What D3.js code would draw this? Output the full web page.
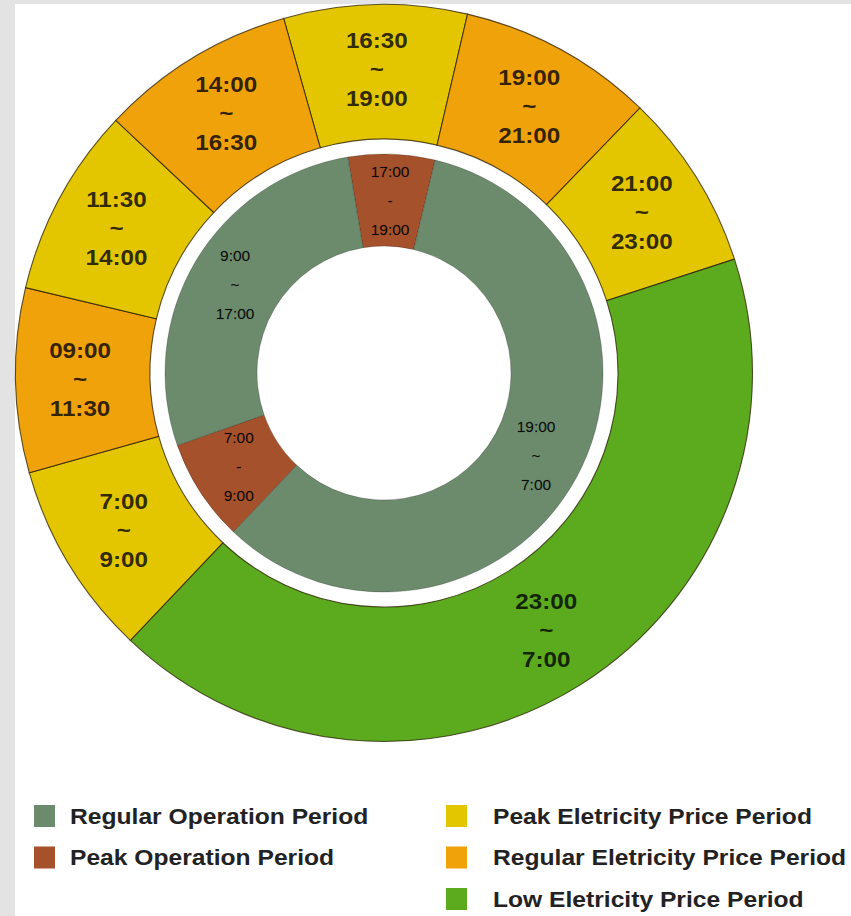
<!DOCTYPE html>
<html><head><meta charset="utf-8">
<script src="https://cdn.jsdelivr.net/npm/d3@7"></script>
<style>html,body{margin:0;padding:0;background:#e3e3e3;} svg{display:block}</style>
</head><body>
<svg id="chart" width="851" height="916"></svg>
<script>
// Outer ring: electricity price periods (slice sizes read as degrees of arc)
const priceStart = ["16:30", "19:00", "21:00", "23:00", "7:00", "09:00", "11:30", "14:00"];
const priceEnd   = ["19:00", "21:00", "23:00", "7:00", "9:00", "11:30", "14:00", "16:30"];
const priceLevel = ["peak", "regular", "peak", "low", "peak", "regular", "peak", "regular"];
const priceSpan  = [28.9, 30.9, 28, 151.5, 30.8, 29.1, 29.9, 30.9];
const priceFirstEdge = -15.8;

// Inner ring: operation periods
const opStart = ["17:00", "19:00", "7:00", "9:00"];
const opEnd   = ["19:00", "7:00", "9:00", "17:00"];
const opSep   = ["-", "~", "-", "~"];
const opLevel = ["peak", "regular", "peak", "regular"];
const opSpan  = [23, 210, 27.2, 99.8];
const opFirstEdge = -9.5;

// Legend
const opLegendKeys = ["regular", "peak"];
const opLegendNames = ["Regular Operation Period", "Peak Operation Period"];
const priceLegendKeys = ["peak", "regular", "low"];
const priceLegendNames = ["Peak Eletricity Price Period", "Regular Eletricity Price Period", "Low Eletricity Price Period"];

const priceColor = d3.scaleOrdinal().domain(["peak", "regular", "low"]).range(["#e4c600", "#f0a20a", "#5caa1e"]);
const opColor = d3.scaleOrdinal().domain(["regular", "peak"]).range(["#6c8a6c", "#a5522c"]);

const svg = d3.select("#chart");
svg.append("rect").attr("x", 15).attr("y", 4).attr("width", 836).attr("height", 912).attr("fill", "#ffffff");

const cx = 384, cy = 373;
const g = svg.append("g").attr("transform", `translate(${cx},${cy})`);
const rad = d => d * Math.PI / 180;

// Outer ring
const pricePie = d3.pie().sort(null).value(d => d.span)
  .startAngle(rad(priceFirstEdge)).endAngle(rad(priceFirstEdge + 360));
const priceData = pricePie(priceSpan.map((s, i) => ({span: s, level: priceLevel[i], a: priceStart[i], b: priceEnd[i]})));
const outerArc = d3.arc().innerRadius(234).outerRadius(368.5);
const outerLabelArc = d3.arc().innerRadius(304).outerRadius(304);

g.selectAll("path.price").data(priceData).join("path")
  .attr("class", "price")
  .attr("d", outerArc)
  .attr("fill", d => priceColor(d.data.level))
  .attr("stroke", "rgba(40,30,0,0.75)")
  .attr("stroke-width", 1.1);

const pl = g.selectAll("g.plabel").data(priceData).join("g")
  .attr("class", "plabel")
  .attr("transform", d => { const c = outerLabelArc.centroid(d); return `translate(${c[0]},${c[1]}) scale(1.1,1)`; });
pl.selectAll("text").data(d => [d.data.a, "~", d.data.b]).join("text")
  .attr("y", (t, i) => (i - 1) * 29)
  .attr("text-anchor", "middle")
  .attr("dominant-baseline", "central")
  .attr("font-family", "'Liberation Sans', Arial, sans-serif")
  .attr("font-weight", "bold")
  .attr("font-size", 22)
  .attr("fill", "#000")
  .attr("fill-opacity", 0.8)
  .text(t => t);

// Inner ring
const opPie = d3.pie().sort(null).value(d => d.span)
  .startAngle(rad(opFirstEdge)).endAngle(rad(opFirstEdge + 360));
const opData = opPie(opSpan.map((s, i) => ({span: s, level: opLevel[i], a: opStart[i], b: opEnd[i], sep: opSep[i]})));
const innerArc = d3.arc().innerRadius(127).outerRadius(219);
const innerLabelArc = d3.arc().innerRadius(173).outerRadius(173);

g.selectAll("path.op").data(opData).join("path")
  .attr("class", "op")
  .attr("d", innerArc)
  .attr("fill", d => opColor(d.data.level))
  .attr("stroke", "rgba(0,0,0,0.22)")
  .attr("stroke-width", 1);

const ol = g.selectAll("g.olabel").data(opData).join("g")
  .attr("class", "olabel")
  .attr("transform", d => { const c = innerLabelArc.centroid(d); return `translate(${c[0]},${c[1]})`; });
ol.selectAll("text").data(d => [d.data.a, d.data.sep, d.data.b]).join("text")
  .attr("y", (t, i) => (i - 1) * 29)
  .attr("text-anchor", "middle")
  .attr("dominant-baseline", "central")
  .attr("font-family", "'Liberation Sans', Arial, sans-serif")
  .attr("font-size", 15.5)
  .attr("fill", "#000")
  .attr("fill-opacity", 0.92)
  .attr("stroke", "rgba(0,0,0,0.35)")
  .attr("stroke-width", 0.3)
  .text(t => t);

// Legend
function legendColumn(x0, textX, keys, names, color) {
  const rows = svg.append("g").selectAll("g").data(names).join("g")
    .attr("transform", (d, i) => `translate(0,${805 + i * 41.5})`);
  rows.append("rect").attr("x", x0).attr("y", 0).attr("width", 21).attr("height", 22)
    .attr("fill", (d, i) => color(keys[i]));
  rows.append("text")
    .attr("transform", `translate(${textX},18.5) scale(1.12,1)`)
    .attr("font-family", "'Liberation Sans', Arial, sans-serif")
    .attr("font-weight", "bold")
    .attr("font-size", 22)
    .attr("fill", "#222")
    .text(d => d);
}
legendColumn(34, 70, opLegendKeys, opLegendNames, opColor);
legendColumn(446, 493, priceLegendKeys, priceLegendNames, priceColor);
</script>
</body></html>
